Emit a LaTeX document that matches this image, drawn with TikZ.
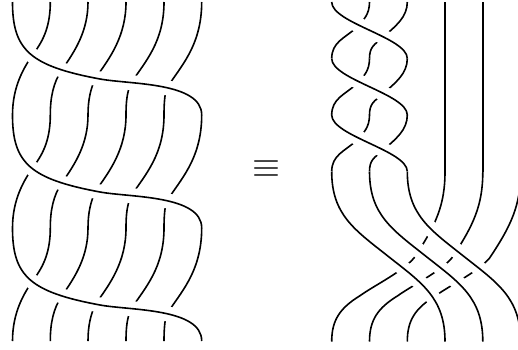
\documentclass[tikz,border=0pt]{standalone}
\usepackage{fix-cm}
\usepackage{tikz}

\tikzset{
    strand/.style={draw=black, line width=1.6pt},
    halo/.style={draw=white, line width=15pt}
}
% one block of the left twist, top at y=0, height 113
\newcommand{\leftunder}{
    \draw[strand] (50.3,0) .. controls (50.3,23) and (44,38) .. (33.5,51.5) .. controls (25,64) and (12.5,83) .. (12.5,113);
    \draw[strand] (88,0) .. controls (88,28) and (76,48) .. (62,67.5) .. controls (53,81) and (50.3,96) .. (50.3,113);
    \draw[strand] (126,0) .. controls (126,34) and (110,56) .. (95.5,76) .. controls (90.5,87) and (88,98) .. (88,113);
    \draw[strand] (164,0) .. controls (164,40) and (145,60) .. (131,81) .. controls (127,90) and (126,100) .. (126,113);
    \draw[strand] (201.7,0) .. controls (201.7,45) and (179,66) .. (167,86) .. controls (165,90) and (164,100) .. (164,113);
}
\newcommand{\leftover}[1]{
    \draw[#1] (12.5,0) .. controls (12.5,48) and (30,64) .. (100,77) .. controls (130,82.5) and (201.7,80) .. (201.7,113);
}
% one twist of the three left strands, height 56.5
\newcommand{\braidblock}{
    \draw[strand] (369.5,0) .. controls (369.5,12) and (364,18) .. (356,26) .. controls (345,36) and (331.7,40) .. (331.7,56.5);
    \draw[strand] (407.3,0) .. controls (407.3,15) and (396,24) .. (382.5,35.5) .. controls (374,43) and (369.5,45) .. (369.5,56.5);
    \draw[halo] (331.7,0) .. controls (331.7,21) and (407.3,35.5) .. (407.3,56.5);
    \draw[strand] (331.7,0) .. controls (331.7,21) and (407.3,35.5) .. (407.3,56.5);
}

\begin{document}
\begin{tikzpicture}[x=1pt, y=-1pt]

    \useasboundingbox (0,0) rectangle (518,349);
    \clip (0,0) rectangle (518,349);

    % left rope
    \foreach \y in {2,115,228} {
        \begin{scope}[yshift=-\y pt]
            \leftunder
            \leftover{halo}
            \leftover{strand}
        \end{scope}
    }

    \node[inner sep=0pt, font=\fontsize{36}{36}\selectfont] (equiv) at (266,169.3) {$\equiv$};

    % right braid, top part
    \foreach \y in {2,58.5,115} {
        \begin{scope}[yshift=-\y pt]
            \braidblock
        \end{scope}
    }
    \draw[strand] (445,2) -- (445,171.5);
    \draw[strand] (482.8,2) -- (482.8,171.5);

    % right braid, big crossing
    \foreach \i in {0,1,2} {
        \draw[strand, xshift=37.8*\i pt] (445,171.5) .. controls (445,205) and (436,225) .. (414,258) .. controls (402,272) and (375,285) .. (360,295.7) .. controls (340,308) and (331.7,320) .. (331.7,341.5);
    }
    \foreach \i in {0,1,2} {
        \draw[halo, xshift=37.8*\i pt] (331.7,171.5) .. controls (331.7,215) and (355,230) .. (388.4,256.5) .. controls (422,283) and (445,298) .. (445,341.5);
    }
    \foreach \i in {0,1,2} {
        \draw[strand, xshift=37.8*\i pt] (331.7,171.5) .. controls (331.7,215) and (355,230) .. (388.4,256.5) .. controls (422,283) and (445,298) .. (445,341.5);
    }

\end{tikzpicture}
\end{document}
